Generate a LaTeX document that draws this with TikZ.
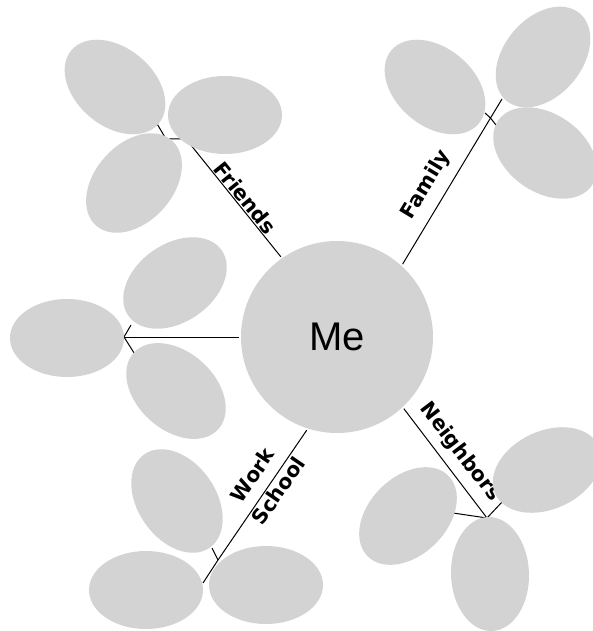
\documentclass[tikz,border=0pt]{standalone}
\usepackage{fontspec}
\setmainfont{Liberation Sans}
\newfontfamily\labelfont{DejaVu Sans}
\usepackage{tikz}
\usetikzlibrary{shapes.geometric}
\definecolor{bubble}{HTML}{D3D3D3}

\begin{document}
\begin{tikzpicture}[x=1pt, y=-1pt,
      hub/.style={circle, fill=bubble, minimum size=192pt, inner sep=0pt, outer sep=2pt,
                  font=\fontsize{40}{48}\selectfont},
      leaf/.style={ellipse, fill=bubble, minimum width=114pt, minimum height=78pt, inner sep=0pt},
      link/.style={draw=black, line width=1pt},
      lab/.style={font=\labelfont\bfseries\fontsize{20.5}{24}\selectfont, inner sep=1pt, sloped}
    ]
    \useasboundingbox (0,0) rectangle (592,631);
    \node[hub] (me) at (337,337) {Me};
    \coordinate (frHub) at (186,139);  \coordinate (frTip) at (183,135);
    \coordinate (frBend) at (166,139); \coordinate (frEnd) at (156,122);
    \coordinate (faHub) at (490.5,118); \coordinate (faTip) at (502,99);
    \coordinate (faEndL) at (485,113); \coordinate (faEndD) at (496,125);
    \coordinate (lfHub) at (124,337);
    \coordinate (lfEndU) at (131,325); \coordinate (lfEndD) at (136,356);
    \coordinate (wsHub) at (218,560);  \coordinate (wsTip) at (203,583);
    \coordinate (wsEnd) at (212,548);
    \coordinate (nbHub) at (487,518);
    \coordinate (nbEndL) at (453,513); \coordinate (nbEndR) at (502,502);
    \draw[link] (me.125) -- node[lab, pos=0.45, above=0pt]{Friends} (frHub) -- (frTip);
    \draw[link] (frHub) -- (frBend) -- (frEnd);
    \draw[link] (me.48) -- node[lab, pos=0.47, above=9pt]{Family} (faHub) -- (faTip);
    \draw[link] (faEndL) -- (faHub) -- (faEndD);
    \draw[link] (me.180) -- (lfHub);
    \draw[link] (lfEndU) -- (lfHub) -- (lfEndD);
    \draw[link] (me.-108) -- node[lab, pos=0.43, above=10pt]{Work}
          node[lab, pos=0.42, below=1pt]{School} (wsHub) -- (wsTip);
    \draw[link] (wsHub) -- (wsEnd);
    \draw[link] (me.-47) -- node[lab, pos=0.5, above=7pt]{Neighbors} (nbHub);
    \draw[link] (nbEndL) -- (nbHub) -- (nbEndR);
    \node[leaf, rotate=-40] (frA) at (115,87) {};
    \node[leaf]             (frB) at (225,115) {};
    \node[leaf, rotate=48]  (frC) at (134,183) {};
    \node[leaf, rotate=-40] (faL) at (435,87) {};
    \node[leaf, rotate=50]  (faU) at (543,57) {};
    \node[leaf, rotate=-35] (faD) at (545,153) {};
    \node[leaf]             (lfL) at (67,338) {};
    \node[leaf, rotate=35]  (lfU) at (175,283) {};
    \node[leaf, rotate=-42] (lfD) at (176,391) {};
    \node[leaf, rotate=-55] (wsU) at (177,501) {};
    \node[leaf]             (wsL) at (146,590) {};
    \node[leaf]             (wsR) at (266,585) {};
    \node[leaf, rotate=45]  (nbL) at (408,516) {};
    \node[leaf, rotate=25]  (nbR) at (547,470) {};
    \node[leaf, rotate=92]  (nbD) at (490,574) {};
  \end{tikzpicture}
\end{document}
